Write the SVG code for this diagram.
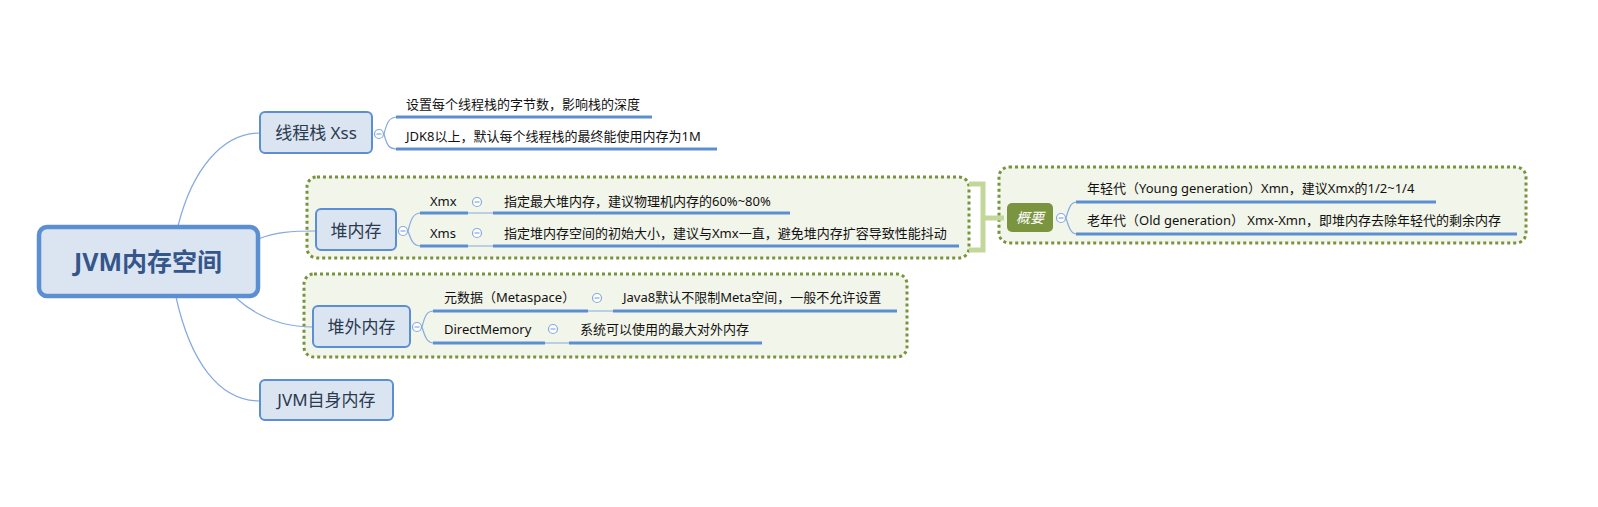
<svg xmlns="http://www.w3.org/2000/svg" width="1598" height="507" viewBox="0 0 1598 507">
<style>
.bg{fill:#ffffff}
.node rect.box{fill:#dbe5f2;stroke:#5b8fd2;stroke-width:2}
.root rect.box{stroke-width:4.5}
.t{font-family:"Noto Sans","Noto Sans CJK SC",sans-serif}
.nt{font-size:17px;fill:#2b3a4e;text-anchor:middle}
.rt{font-size:25px;font-weight:bold;fill:#34568a;text-anchor:middle}
.ct{font-size:13px;fill:#111111}
.line{fill:none;stroke:#84aade;stroke-width:1.2}
.ul{stroke:#5b8fd2;stroke-width:3;fill:none}
.thin{stroke:#84aade;stroke-width:1.2;fill:none}
.bound{fill:#f2f5ea;stroke:#77933c;stroke-width:3;stroke-dasharray:3 3}
.col{fill:#ffffff;stroke:#86a9dd;stroke-width:1.2}
.brk{fill:none;stroke:#c4d79b;stroke-width:5}
.sum{fill:#7b9440}
.st{font-size:14px;fill:#ffffff;font-style:italic;text-anchor:middle}
</style>
<defs>
<g id="col"><circle cx="0" cy="0" r="4.5"/><line x1="-2.5" y1="0" x2="2.5" y2="0"/></g>
</defs>
<rect class="bg" x="0" y="0" width="1598" height="507"/>

<g id="boundaries">
<rect class="bound" x="307" y="177" width="662" height="81" rx="10"/>
<rect class="bound" x="304" y="274" width="603" height="83" rx="10"/>
<rect class="bound" x="999" y="167" width="527" height="76" rx="10"/>
</g>

<g id="connectors">
<path class="line" d="M178,226 C192,170 222,133 260,133"/>
<path class="line" d="M258,239 C276,232 292,231 316,231"/>
<path class="line" d="M236,298 C256,316 282,327 313,327"/>
<path class="line" d="M176,297 C190,360 218,401 260,401"/>
<path class="line" d="M384,134 C387,122 389,117 398,117 M384,134 C387,146 389,149 398,149"/>
<path class="line" d="M408,231 C411,219 413,213 421,213 M408,231 C411,240 413,246 421,246"/>
<path class="line" d="M422,327 C425,315 427,311 434,311 M422,327 C425,337 427,343 434,343"/>
<path class="line" d="M1066,218 C1069,207 1071,202 1077,202 M1066,218 C1069,228 1071,234 1077,234"/>
<path class="thin" d="M468,213 H493 M468,246 H493 M588,311 H613 M545,343 H569"/>
<path class="brk" d="M969,184 H983 V250 H969 M983,218 H1004"/>
</g>

<g id="root" class="node root">
<rect class="box" x="39" y="227" width="219" height="69" rx="8"/>
<text class="t rt" x="148" y="271">JVM内存空间</text>
</g>

<g id="xss" class="node">
<rect class="box" x="260" y="112" width="112" height="41" rx="5"/>
<text class="t nt" x="316" y="139">线程栈 Xss</text>
</g>
<use class="col" href="#col" x="379" y="134"/>

<g id="xss-1">
<text class="t ct" x="406" y="109">设置每个线程栈的字节数，影响栈的深度</text>
<line class="ul" x1="396" y1="117" x2="652" y2="117"/>
</g>
<g id="xss-2">
<text class="t ct" x="406" y="141">JDK8以上，默认每个线程栈的最终能使用内存为1M</text>
<line class="ul" x1="396" y1="149" x2="717" y2="149"/>
</g>

<g id="heap" class="node">
<rect class="box" x="316" y="209" width="80" height="41" rx="5"/>
<text class="t nt" x="356" y="237">堆内存</text>
</g>
<use class="col" href="#col" x="403" y="231"/>

<g id="xmx">
<text class="t ct" x="430" y="206">Xmx</text>
<line class="ul" x1="420" y1="213" x2="468" y2="213"/>
</g>
<use class="col" href="#col" x="477" y="202"/>
<g id="xmx-1">
<text class="t ct" x="504" y="206">指定最大堆内存，建议物理机内存的60%~80%</text>
<line class="ul" x1="493" y1="213" x2="790" y2="213"/>
</g>
<g id="xms">
<text class="t ct" x="430" y="238">Xms</text>
<line class="ul" x1="420" y1="246" x2="468" y2="246"/>
</g>
<use class="col" href="#col" x="477" y="233"/>
<g id="xms-1">
<text class="t ct" x="504" y="238">指定堆内存空间的初始大小，建议与Xmx一直，避免堆内存扩容导致性能抖动</text>
<line class="ul" x1="493" y1="246" x2="959" y2="246"/>
</g>

<g id="summary">
<rect class="sum" x="1007" y="203" width="46" height="29" rx="5"/>
<text class="t st" x="1030" y="223">概要</text>
</g>
<use class="col" href="#col" x="1061" y="218"/>
<g id="young">
<text class="t ct" x="1087" y="193">年轻代（Young generation）Xmn，建议Xmx的1/2~1/4</text>
<line class="ul" x1="1076" y1="202" x2="1436" y2="202"/>
</g>
<g id="old">
<text class="t ct" x="1087" y="225">老年代（Old generation） Xmx-Xmn，即堆内存去除年轻代的剩余内存</text>
<line class="ul" x1="1076" y1="234" x2="1517" y2="234"/>
</g>

<g id="offheap" class="node">
<rect class="box" x="313" y="306" width="97" height="41" rx="5"/>
<text class="t nt" x="361.5" y="333">堆外内存</text>
</g>
<use class="col" href="#col" x="417" y="327"/>

<g id="meta">
<text class="t ct" x="444" y="302">元数据（Metaspace）</text>
<line class="ul" x1="433" y1="311" x2="588" y2="311"/>
</g>
<use class="col" href="#col" x="597" y="298"/>
<g id="meta-1">
<text class="t ct" x="623" y="302">Java8默认不限制Meta空间，一般不允许设置</text>
<line class="ul" x1="613" y1="311" x2="897" y2="311"/>
</g>
<g id="direct">
<text class="t ct" x="444" y="334">DirectMemory</text>
<line class="ul" x1="433" y1="343" x2="545" y2="343"/>
</g>
<use class="col" href="#col" x="553" y="329"/>
<g id="direct-1">
<text class="t ct" x="580" y="334">系统可以使用的最大对外内存</text>
<line class="ul" x1="569" y1="343" x2="762" y2="343"/>
</g>

<g id="jvmself" class="node">
<rect class="box" x="260" y="380" width="133" height="40" rx="5"/>
<text class="t nt" x="326.5" y="406">JVM自身内存</text>
</g>
</svg>
